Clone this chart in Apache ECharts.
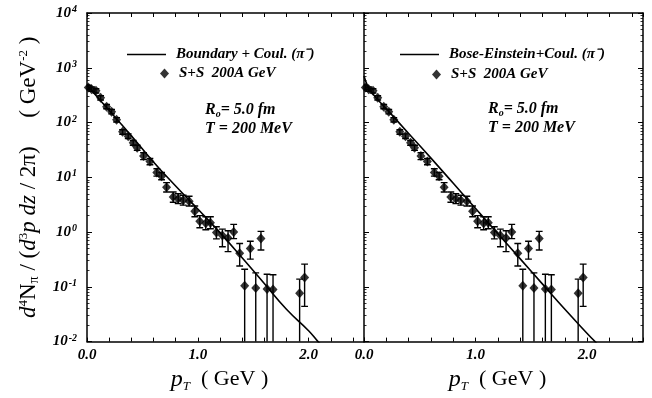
<!DOCTYPE html>
<html>
<head>
<meta charset="utf-8">
<script src="https://cdn.jsdelivr.net/npm/echarts@6/dist/echarts.min.js"></script>
<style>
html,body{margin:0;padding:0;background:#fff;}
#c{width:652px;height:398px;}
</style>
</head>
<body>
<div id="c"></div>
<script>
// ---- data (S+S 200A GeV, pi-) ----
const ptData = [0.012,0.042,0.081,0.123,0.177,0.222,0.267,0.321,0.372,0.417,0.453,0.510,0.568,0.630,0.673,0.718,0.778,0.823,0.868,0.922,0.973,1.018,1.072,1.114,1.168,1.222,1.273,1.324,1.378,1.423,1.474,1.523,1.570,1.625,1.679,1.919,1.964];
const yieldData = [437,407,380,282,195,158,112,67.6,56.2,42.7,34.7,24.5,19.5,12.3,10.5,6.6,4.37,4.07,3.80,3.67,2.40,1.58,1.45,1.48,0.98,0.87,0.78,1.00,0.41,0.105,0.50,0.095,0.76,0.091,0.089,0.076,0.148];
const errLow  = [400,372,347,258,178,144,102,61,51,38.5,31,21,17,10.5,9,5.4,3.5,3.3,3.1,3.0,1.9,1.2,1.1,1.15,0.75,0.54,0.44,0.76,0.24,0.001,0.32,0.001,0.47,0.001,0.001,0.001,0.044];
const errHigh = [478,445,415,308,213,173,123,74,62,47,38.5,28,22,14.3,12.2,8.0,5.4,5.0,4.7,4.5,3.0,2.0,1.9,1.9,1.25,1.13,1.06,1.38,0.62,0.21,0.68,0.18,1.03,0.17,0.166,0.138,0.26];

// model curves
const curveLeftPt  = [0,0.2,0.4,0.6,0.8,1.0,1.2,1.4,1.6,1.8,2.0,2.085,2.12];
const curveLeftY   = [479,166,57.5,19.1,6.92,2.63,0.977,0.339,0.115,0.0389,0.0158,0.01,0.0084];
const curveRightPt = [0,0.03,0.06,0.1,0.2,0.4,0.6,0.8,1.0,1.2,1.4,1.6,1.8,2.0,2.07,2.1];
const curveRightY  = [708,479,380,295,178,63.1,22.4,7.76,2.69,0.933,0.324,0.112,0.0389,0.0141,0.01,0.0086];

const yTicks = [0.01,0.1,1,10,100,1000,10000];
const yTickLabels = ['-2','-1','0','1','2','3','4'];
const xTickLabels = ['0.0','1.0','2.0'];

const nameLeft = 'Boundary + Coul. (\u03c0\u207b)';
const nameRight = 'Bose-Einstein+Coul. (\u03c0\u207b)';
const nameData = 'S+S  200A GeV';

const serif = 'Liberation Serif';

const pts = ptData.map((p,i)=>[p, yieldData[i]]);
const errs = ptData.map((p,i)=>[p, errLow[i], errHigh[i]]);
const cL = curveLeftPt.map((p,i)=>[p, curveLeftY[i]]);
const cR = curveRightPt.map((p,i)=>[p, curveRightY[i]]);

function errRender(params, api){
  const x = api.value(0), lo = api.value(1), hi = api.value(2);
  const a = api.coord([x, lo]), b = api.coord([x, hi]);
  const w = 3.4;
  const st = {stroke:'#000', lineWidth:1.4};
  return {type:'group', children:[
    {type:'line', shape:{x1:a[0],y1:a[1],x2:b[0],y2:b[1]}, style:st},
    {type:'line', shape:{x1:a[0]-w,y1:a[1],x2:a[0]+w,y2:a[1]}, style:st},
    {type:'line', shape:{x1:b[0]-w,y1:b[1],x2:b[0]+w,y2:b[1]}, style:st}
  ]};
}

const labelFont = {fontFamily:serif, fontStyle:'italic', fontWeight:'bold', color:'#000'};

function xAxisDef(grid, showLabels, pos, name, padRight){
  return {
    type:'value', gridIndex:grid, min:0, max:2.5, interval:0.2, position:pos,
    axisLine:{show:true, onZero:false, lineStyle:{color:'#000', width:1.5}},
    axisTick:{show:true, inside:true, length:4, lineStyle:{color:'#000', width:1}},
    splitLine:{show:false},
    axisLabel:{show:showLabels, margin:6, fontSize:15, ...labelFont,
      formatter:function(v){ const k = Math.round(v); return Math.abs(v-k)<1e-6 && k<=2 ? xTickLabels[k] : ''; }},
    name: name || '', nameLocation:'middle', nameGap:16,
    nameTextStyle:{padding:[0,padRight||0,0,0], rich:{
      p:{fontFamily:serif, fontStyle:'italic', fontSize:24, color:'#000'},
      t:{fontFamily:serif, fontStyle:'italic', fontSize:13, color:'#000', verticalAlign:'bottom', padding:[14,0,0,0]},
      g:{fontFamily:serif, fontSize:22, color:'#000'}
    }}
  };
}

function yAxisDef(grid, pos, showLabels, name){
  return {
    type:'log', logBase:10, gridIndex:grid, min:0.01, max:10000, position:pos,
    axisLine:{show:true, onZero:false, lineStyle:{color:'#000', width:1.5}},
    axisTick:{show:true, inside:true, length:5, lineStyle:{color:'#000', width:1}},
    minorTick:{show:true, splitNumber:9, length:2.5, lineStyle:{color:'#000', width:0.8}},
    splitLine:{show:false},
    axisLabel:{show:showLabels, margin:10,
      formatter:function(v){ const i = yTicks.findIndex(t=>Math.abs(Math.log10(t)-Math.log10(v))<1e-6); return i<0 ? '' : '{b|10}{s|'+yTickLabels[i]+'}'; },
      rich:{ b:{fontSize:15, ...labelFont}, s:{fontSize:10, ...labelFont, verticalAlign:'top', padding:[0,0,7,1]} }
    },
    name: name || '', nameLocation:'middle', nameRotate:90, nameGap:46,
    nameTextStyle:{rich:{
      i:{fontFamily:serif, fontStyle:'italic', fontSize:23, color:'#000'},
      n:{fontFamily:serif, fontSize:23, color:'#000'},
      sup:{fontFamily:serif, fontSize:13, color:'#000', verticalAlign:'top', padding:[0,0,10,0]},
      sub:{fontFamily:serif, fontSize:14, color:'#000', verticalAlign:'bottom', padding:[10,0,0,0]}
    }}
  };
}

const yTitle = '{i|d}{sup|4}{n|N}{sub|\u03c0}{n| / (}{i|d}{sup|3}{i|p dz}{n| / 2\u03c0)     ( GeV}{sup|-2}{n| )}';
const xTitle = '{p|p}{t|T}{g|  ( GeV )}';

const legendText = {fontSize:15, ...labelFont, padding:[0,0,0,5]};

const option = {
  backgroundColor:'#fff',
  animation:false,
  grid:[
    {left:87, top:13, width:277, height:340},
    {left:364, top:13, width:279, height:340}
  ],
  xAxis:[
    xAxisDef(0, true, 'bottom', xTitle, 12),
    xAxisDef(1, true, 'bottom', xTitle, 12),
    xAxisDef(0, false, 'top'),
    xAxisDef(1, false, 'top')
  ],
  yAxis:[
    yAxisDef(0, 'left', true, yTitle),
    yAxisDef(1, 'left', false),
    yAxisDef(1, 'right', false)
  ],
  legend:[
    {data:[{name:nameLeft, icon:'rect'}], left:122, top:42, itemWidth:39, itemHeight:1.6, selectedMode:false, textStyle:legendText},
    {data:[{name:nameData, icon:'diamond'}], left:155, top:61, itemWidth:9, itemHeight:10, selectedMode:false, textStyle:legendText},
    {data:[{name:nameRight, icon:'rect'}], left:395, top:42, itemWidth:39, itemHeight:1.6, selectedMode:false, textStyle:legendText},
    {data:[{name:nameData, icon:'diamond'}], left:427, top:62, itemWidth:9, itemHeight:10, selectedMode:false, textStyle:legendText}
  ],
  graphic:[
    {type:'text', left:205, top:102, style:{rich:{r:{fontSize:16, ...labelFont}, o:{fontSize:10, ...labelFont, verticalAlign:'bottom', padding:[8,0,0,0]}}, text:'{r|R}{o|o}{r|= 5.0 fm}'}},
    {type:'text', left:205, top:121, style:{text:'T = 200 MeV', fontSize:16, ...labelFont}},
    {type:'text', left:488, top:101, style:{rich:{r:{fontSize:16, ...labelFont}, o:{fontSize:10, ...labelFont, verticalAlign:'bottom', padding:[8,0,0,0]}}, text:'{r|R}{o|o}{r|= 5.0 fm}'}},
    {type:'text', left:488, top:120, style:{text:'T = 200 MeV', fontSize:16, ...labelFont}}
  ],
  series:[
    {name:nameLeft, type:'line', xAxisIndex:0, yAxisIndex:0, data:cL, symbol:'none', smooth:true, clip:true,
      lineStyle:{color:'#000', width:1.6}, itemStyle:{color:'#000'}},
    {name:'errL', type:'custom', xAxisIndex:0, yAxisIndex:0, data:errs, renderItem:errRender, clip:true, encode:{x:0, y:[1,2]}},
    {name:nameData, type:'scatter', xAxisIndex:0, yAxisIndex:0, data:pts, symbol:'diamond', symbolSize:[9,10], clip:true,
      itemStyle:{color:'#000'}},
    {name:nameRight, type:'line', xAxisIndex:1, yAxisIndex:1, data:cR, symbol:'none', smooth:true, clip:true,
      lineStyle:{color:'#000', width:1.6}, itemStyle:{color:'#000'}},
    {name:'errR', type:'custom', xAxisIndex:1, yAxisIndex:1, data:errs, renderItem:errRender, clip:true, encode:{x:0, y:[1,2]}},
    {name:nameData, type:'scatter', xAxisIndex:1, yAxisIndex:1, data:pts, symbol:'diamond', symbolSize:[9,10], clip:true,
      itemStyle:{color:'#000'}}
  ]
};

const chart = echarts.init(document.getElementById('c'), null, {renderer:'canvas'});
chart.setOption(option);
</script>
</body>
</html>
